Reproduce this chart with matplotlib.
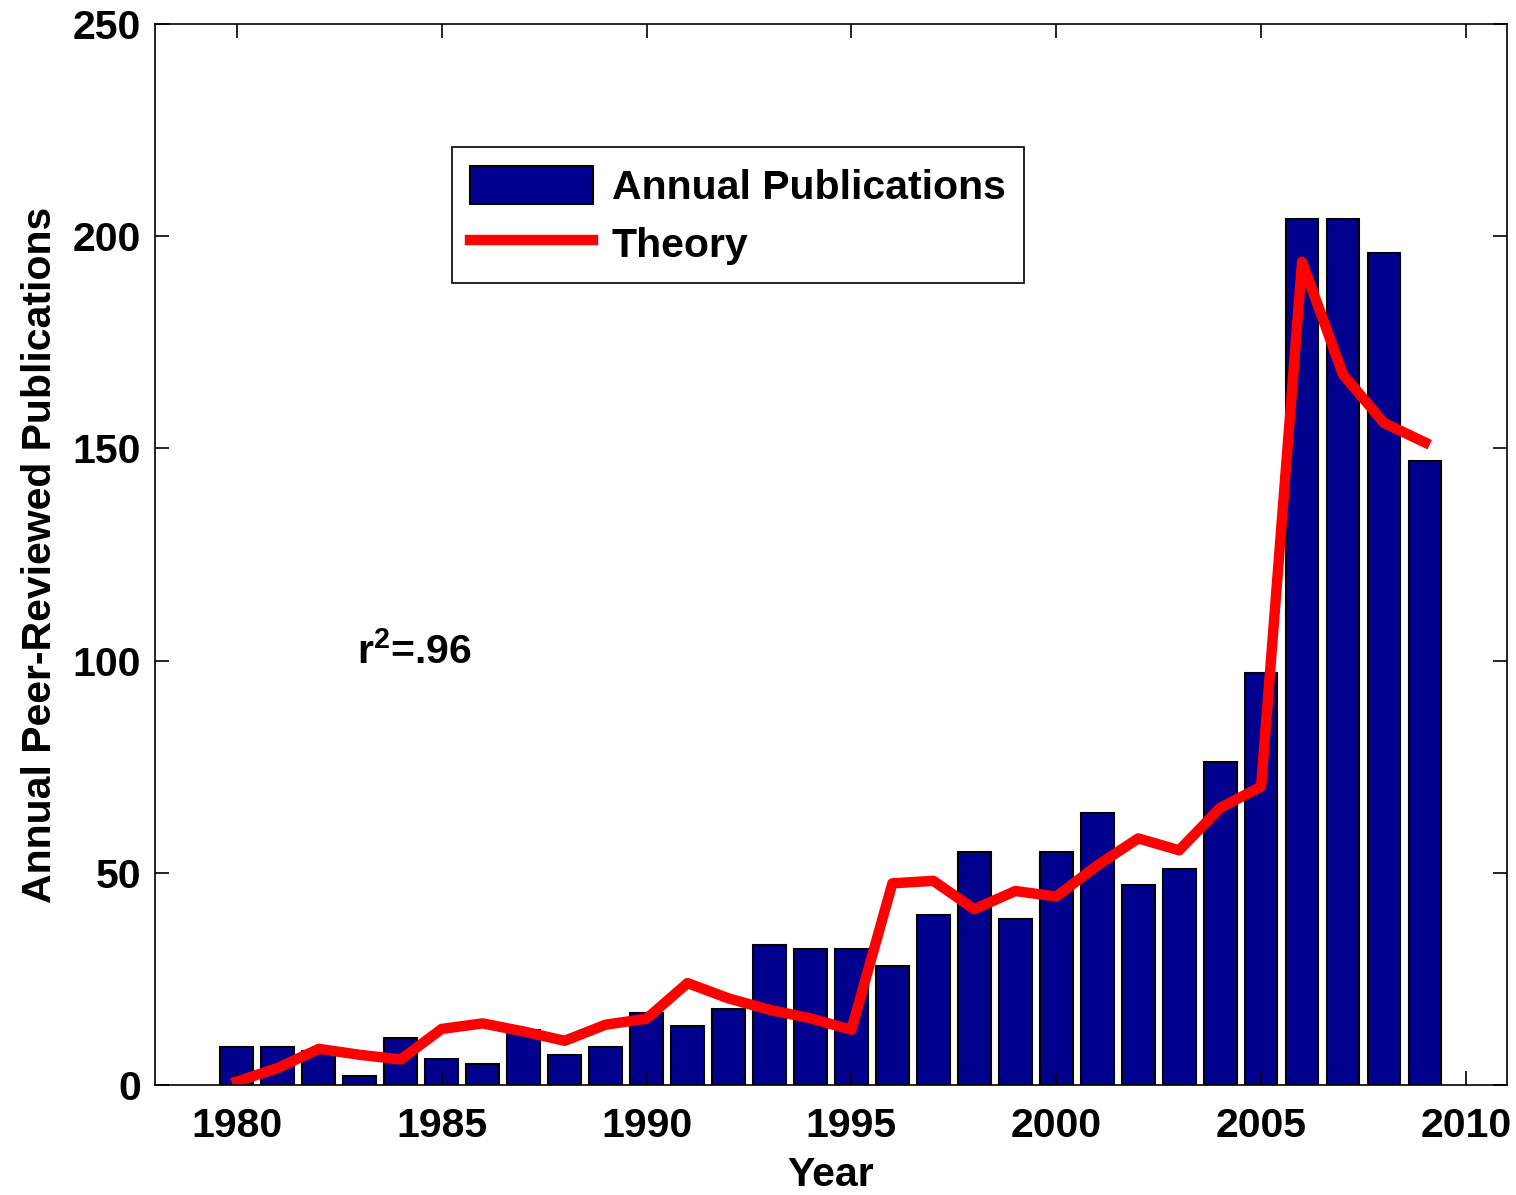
import matplotlib.pyplot as plt

plt.rcParams['font.family'] = ['Liberation Sans', 'DejaVu Sans']
plt.rcParams['font.weight'] = 'bold'
plt.rcParams['mathtext.fontset'] = 'custom'
plt.rcParams['mathtext.rm'] = 'Liberation Sans:bold'
plt.rcParams['mathtext.bf'] = 'Liberation Sans:bold'

years = list(range(1980, 2010))
publications = [9, 9, 8, 2, 11, 6, 5, 13, 7, 9,
                17, 14, 18, 33, 32, 32, 28, 40, 55, 39,
                55, 64, 47, 51, 76, 97, 204, 204, 196, 147]
theory = [0.8, 4.0, 8.5, 7.1, 6.0, 13.2, 14.5, 12.6, 10.4, 14.2,
          15.6, 24.0, 20.4, 17.7, 15.7, 13.0, 47.5, 48.1, 41.4, 45.7,
          44.4, 51.7, 58.1, 55.3, 65.3, 70.3, 194.0, 167.4, 156.0, 151.4]

fig = plt.figure(figsize=(15.16, 11.95), dpi=100)
ax = fig.add_axes([0.1022, 0.0921, 0.8918, 0.8878])

bars = ax.bar(years, publications, width=0.8, color='#00008F', edgecolor='black',
              linewidth=1.5, label='Annual Publications')
line, = ax.plot(years, theory, color='#FF0000', linewidth=7.5, label='Theory')

ax.set_xlim(1978, 2011)
ax.set_ylim(0, 250)
ax.set_xticks(range(1980, 2011, 5))
ax.set_yticks(range(0, 251, 50))
ax.tick_params(direction='in', length=10, width=1.2, top=True, right=True,
               labelsize=29.5)
ax.tick_params(axis='x', pad=16)
ax.tick_params(axis='y', pad=10)
for s in ax.spines.values():
    s.set_linewidth(1.2)

ax.set_xlabel('Year', fontsize=29.5, fontweight='bold', labelpad=8)
ax.set_ylabel('Annual Peer-Reviewed Publications', fontsize=29.5,
              fontweight='bold', labelpad=10)

ax.text(1982.93, 102, r'r$^{2}$=.96', fontsize=29.5, fontweight='bold',
        ha='left', va='center')

leg = ax.legend([bars, line], ['Annual Publications', 'Theory'],
                loc='upper left', bbox_to_anchor=(0.2197, 0.884),
                borderaxespad=0, fontsize=29.5, fancybox=False,
                edgecolor='black', framealpha=1, handlelength=3.0,
                handleheight=1.05, borderpad=0.45, labelspacing=0.42,
                handletextpad=0.45)
leg.get_frame().set_linewidth(1.2)

plt.savefig('out.png')
